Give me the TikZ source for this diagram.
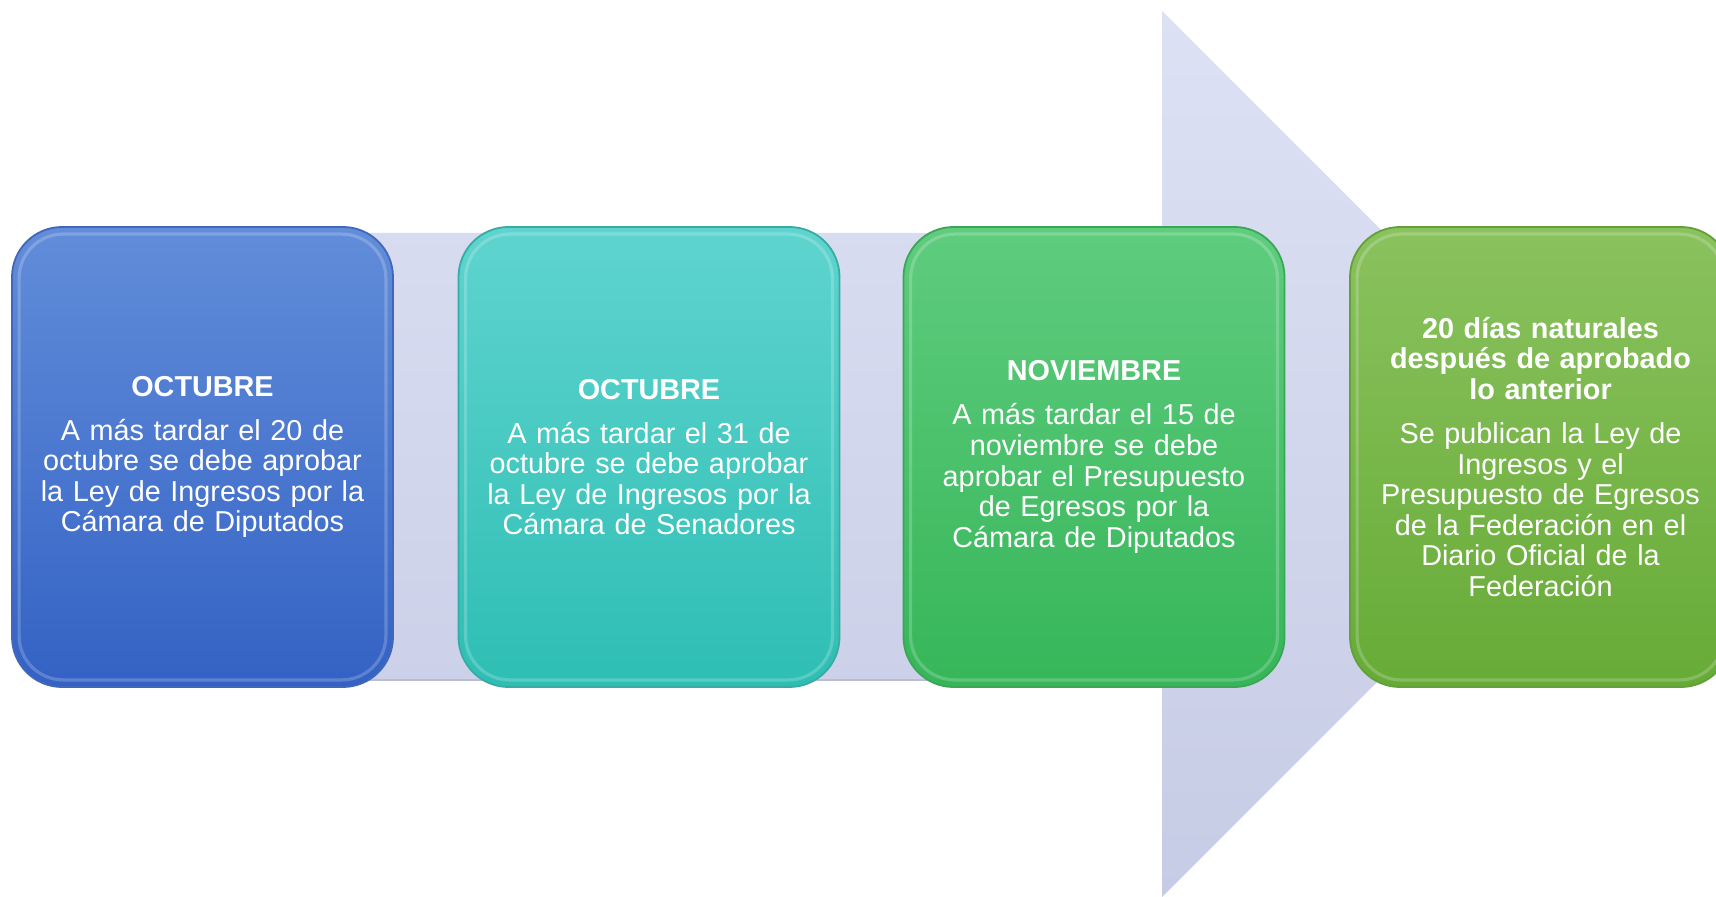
\documentclass[tikz,border=0pt]{standalone}
\usepackage{fontspec}
\setmainfont{Liberation Sans}
\definecolor{arrTop}{HTML}{DCE1F4}
\definecolor{arrBot}{HTML}{C7CCE6}
\definecolor{aTop}{HTML}{628DDA}
\definecolor{aBot}{HTML}{3462C4}
\definecolor{aEdge}{HTML}{4168B8}
\definecolor{bTop}{HTML}{5FD4CF}
\definecolor{bBot}{HTML}{2EBEB4}
\definecolor{bEdge}{HTML}{38ABA3}
\definecolor{cTop}{HTML}{5FCC7E}
\definecolor{cBot}{HTML}{36B659}
\definecolor{cEdge}{HTML}{3AA757}
\definecolor{dTop}{HTML}{8AC25E}
\definecolor{dBot}{HTML}{67AB37}
\definecolor{dEdge}{HTML}{63A03A}
\newcommand{\cardfont}{\fontsize{14.4pt}{15.3pt}\selectfont}
\tikzset{
  card/.style={rounded corners=25pt, minimum width=190.5pt, minimum height=230pt,
    align=center, text=white, font=\cardfont, inner sep=0pt, text width=180pt,
    line width=0.9pt},
  bevel/.style={line width=1.6pt, opacity=0.2, rounded corners=22pt},
}
\begin{document}
\begin{tikzpicture}[x=0.5pt,y=-0.5pt]
\clip (0,0) rectangle (1716,897);
\fill[white] (0,0) rectangle (1716,897);
% big background arrow
\shade[top color=arrTop, bottom color=arrBot]
  (40,233) -- (1162,233) -- (1162,11) -- (1605,454) -- (1162,897) -- (1162,680) -- (40,680) -- cycle;
\draw[arrBot!80!gray, line width=0.8pt] (40,680) -- (1162,680);
% cards
\node[card, top color=aTop, bottom color=aBot, draw=aEdge] (b1) at (202.5,457)
 {{\bfseries OCTUBRE}\\[6.7pt]A más tardar el 20 de\\octubre se debe aprobar\\la Ley de Ingresos por la\\Cámara de Diputados};
\node[card, top color=bTop, bottom color=bBot, draw=bEdge] (b2) at (649,457)
 {{\bfseries OCTUBRE}\\[6.7pt]A más tardar el 31 de\\octubre se debe aprobar\\la Ley de Ingresos por la\\Cámara de Senadores};
\node[card, top color=cTop, bottom color=cBot, draw=cEdge] (b3) at (1094,457)
 {{\bfseries NOVIEMBRE}\\[6.7pt]A más tardar el 15 de\\noviembre se debe\\aprobar el Presupuesto\\de Egresos por la\\Cámara de Diputados};
\node[card, top color=dTop, bottom color=dBot, draw=dEdge] (b4) at (1540.5,457)
 {{\bfseries 20 días naturales\\después de aprobado\\lo anterior}\\[6.7pt]Se publican la Ley de\\Ingresos y el\\Presupuesto de Egresos\\de la Federación en el\\Diario Oficial de la\\Federación};
% bevel highlights
\draw[bevel, white] ([shift={(4pt,-4pt)}]b1.north west) rectangle ([shift={(-4pt,4pt)}]b1.south east);
\draw[bevel, white] ([shift={(4pt,-4pt)}]b2.north west) rectangle ([shift={(-4pt,4pt)}]b2.south east);
\draw[bevel, white] ([shift={(4pt,-4pt)}]b3.north west) rectangle ([shift={(-4pt,4pt)}]b3.south east);
\draw[bevel, white] ([shift={(4pt,-4pt)}]b4.north west) rectangle ([shift={(-4pt,4pt)}]b4.south east);
\end{tikzpicture}
\end{document}
